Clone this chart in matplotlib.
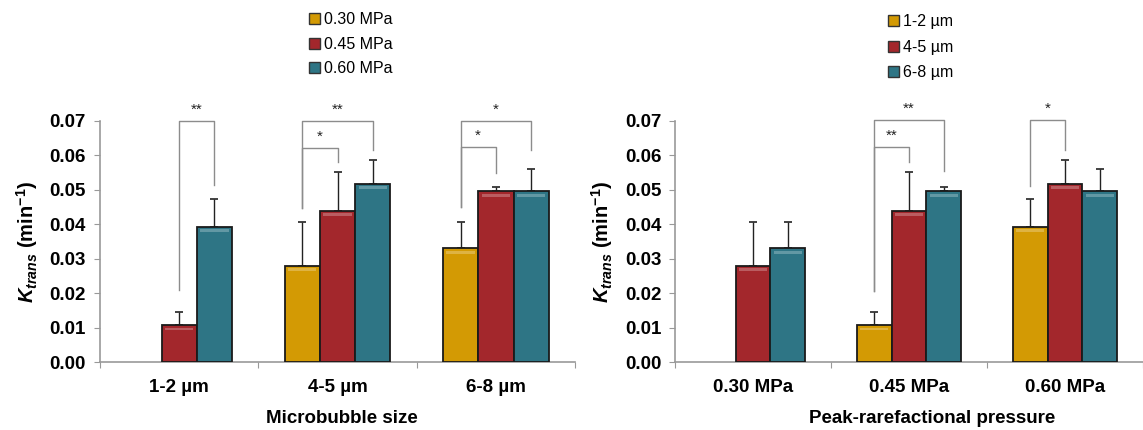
import numpy as np
import matplotlib
matplotlib.use("Agg")
import matplotlib.pyplot as plt
from matplotlib.patches import Patch
from matplotlib.colors import to_rgb

plt.rcParams['font.family'] = ['Liberation Sans', 'DejaVu Sans']
plt.rcParams['mathtext.fontset'] = 'custom'
plt.rcParams['mathtext.it'] = 'Liberation Sans:italic:bold'
plt.rcParams['mathtext.rm'] = 'Liberation Sans:bold'
plt.rcParams['mathtext.bf'] = 'Liberation Sans:bold'

sizes = ['1-2 µm', '4-5 µm', '6-8 µm']
pressures = ['0.30 MPa', '0.45 MPa', '0.60 MPa']

# Ktrans means, rows = pressure, cols = microbubble size (nan = no bar)
k_mean = np.array([
    [np.nan, 0.0280, 0.0330],   # 0.30 MPa
    [0.0107, 0.0439, 0.0495],   # 0.45 MPa
    [0.0393, 0.0517, 0.0495],   # 0.60 MPa
])
k_err = np.array([
    [0.0, 0.0125, 0.0075],
    [0.0037, 0.0112, 0.0014],
    [0.0079, 0.0069, 0.0065],
])

# significance brackets: (group, bar a, bar b, bottom a, bottom b, top, label)
sig_left = [
    (0, 1, 2, 0.0209, 0.0514, 0.0700, '**'),
    (1, 0, 2, 0.0447, 0.0616, 0.0700, '**'),
    (1, 0, 1, 0.0447, 0.0580, 0.0622, '*'),
    (2, 0, 2, 0.0451, 0.0616, 0.0700, '*'),
    (2, 0, 1, 0.0451, 0.0548, 0.0624, '*'),
]
sig_right = [
    (1, 0, 2, 0.0205, 0.0553, 0.0703, '**'),
    (1, 0, 1, 0.0205, 0.0580, 0.0624, '**'),
    (2, 0, 1, 0.0510, 0.0616, 0.0703, '*'),
]

colors = ['#D39A04', '#A3272C', '#2E7585']
bar_w = 0.223


def lighter(c, f=0.25):
    r, g, b = to_rgb(c)
    return (r + (1 - r) * f, g + (1 - g) * f, b + (1 - b) * f)


def draw_panel(ax, means, errs, groups, xtitle, sigs, xlab_x=0.5):
    x = np.arange(len(groups))
    for i in range(means.shape[0]):
        pos = x + (i - 1) * bar_w
        ok = ~np.isnan(means[i])
        ax.bar(pos[ok], means[i][ok], bar_w, color=colors[i],
               edgecolor='#1a1a1a', linewidth=1.3, zorder=3)
        # small bevel highlight along the top of each bar
        ax.bar(pos[ok], 0.0008, bar_w * 0.8, bottom=means[i][ok] - 0.0015,
               color=lighter(colors[i]), linewidth=0, zorder=4)
        ax.errorbar(pos[ok], means[i][ok],
                    yerr=[np.zeros(ok.sum()), errs[i][ok]],
                    fmt='none', ecolor='#222222', elinewidth=1.0,
                    capsize=3, capthick=1.2, zorder=2)
    for g, a, b, ya, yb, top, lab in sigs:
        xa = g + (a - 1) * bar_w
        xb = g + (b - 1) * bar_w
        ax.plot([xa, xa, xb, xb], [ya, top, top, yb], color='#8c8c8c',
                lw=1.0, zorder=1, clip_on=False)
        ax.text((xa + xb) / 2, top + 0.0012, lab, ha='center', va='bottom',
                fontsize=11, color='#222222')
    ax.set_xlim(-0.5, len(groups) - 0.5)
    ax.set_ylim(0, 0.07)
    ticks = np.arange(0, 0.0701, 0.01)
    ax.set_yticks(ticks)
    ax.set_yticklabels(['%.2f' % v for v in ticks], fontsize=13.5, fontweight='bold')
    ax.set_xticks(np.arange(-0.5, len(groups)), minor=False)
    ax.set_xticklabels([])
    ax.set_xticks(x, minor=True)
    ax.set_xticklabels(groups, minor=True, fontsize=13.5, fontweight='bold')
    ax.tick_params(axis='x', which='minor', length=0, pad=12)
    ax.tick_params(axis='x', which='major', length=4, color='#999999')
    ax.tick_params(axis='y', length=4, color='#999999', pad=6)
    for s in ['top', 'right']:
        ax.spines[s].set_visible(False)
    for s in ['left', 'bottom']:
        ax.spines[s].set_color('#999999')
        ax.spines[s].set_linewidth(1.2)
    ax.set_xlabel(xtitle, fontsize=13.5, fontweight='bold')
    ax.xaxis.set_label_coords(xlab_x, -0.2)
    ax.set_ylabel(r'$K_{trans}$ (min$^{-1}$)', fontsize=14.5,
                  fontweight='bold', labelpad=7)


fig = plt.figure(figsize=(11.43, 4.30), dpi=100)
ax1 = fig.add_axes([0.0875, 0.158, 0.4156, 0.561])
ax2 = fig.add_axes([0.5906, 0.158, 0.4094, 0.561])

draw_panel(ax1, k_mean, k_err, sizes, 'Microbubble size', sig_left, 0.51)
draw_panel(ax2, k_mean.T, k_err.T, pressures, 'Peak-rarefactional pressure',
           sig_right, 0.55)

h1 = [Patch(facecolor=c, edgecolor='#333333') for c in colors]
fig.legend(h1, pressures, loc='upper left', bbox_to_anchor=(0.258, 1.005),
           frameon=False, fontsize=11.5, handlelength=0.7, handleheight=0.7,
           handletextpad=0.25, labelspacing=0.6)
fig.legend(h1, sizes, loc='upper left', bbox_to_anchor=(0.764, 1.0),
           frameon=False, fontsize=11.5, handlelength=0.7, handleheight=0.7,
           handletextpad=0.25, labelspacing=0.65)

fig.savefig('out.png', dpi=100)
